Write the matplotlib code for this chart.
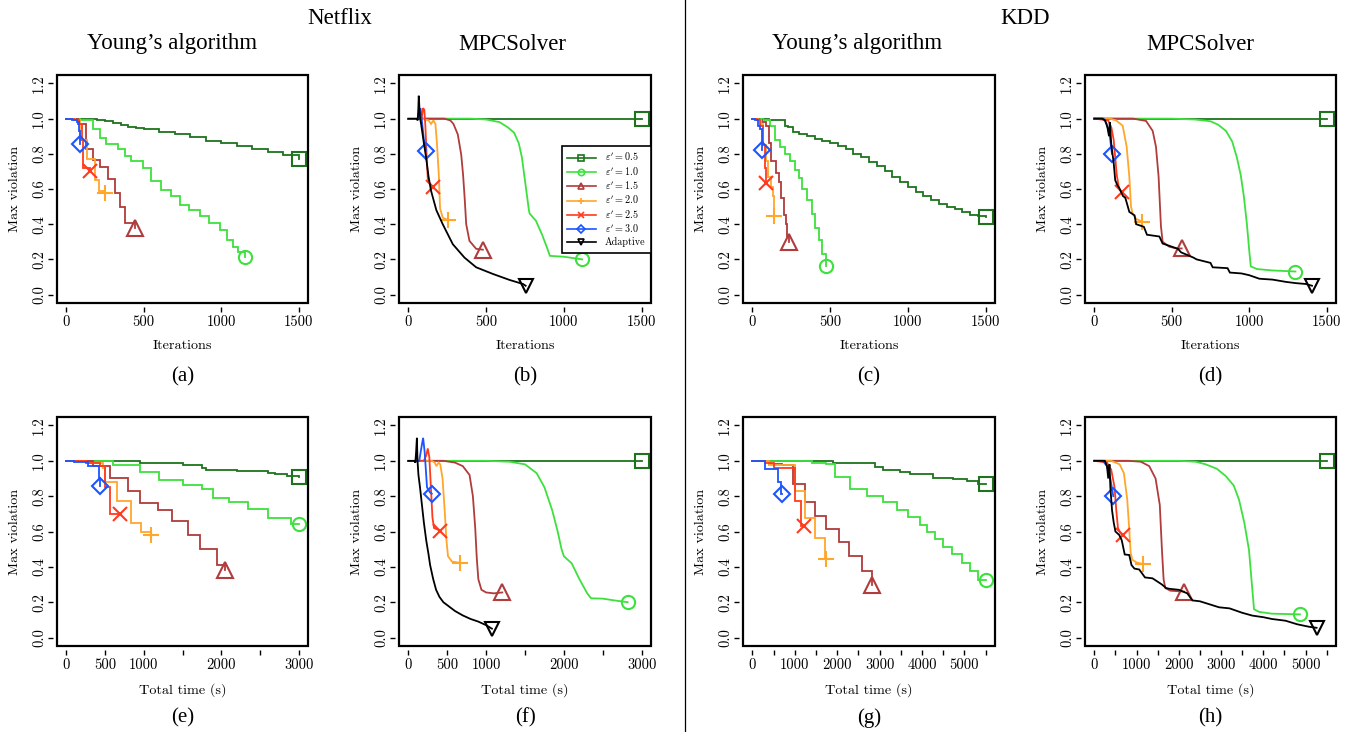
import matplotlib

matplotlib.use("Agg")
import matplotlib.pyplot as plt
from matplotlib.lines import Line2D
from matplotlib.patches import Rectangle

# ---- series labels / styles -------------------------------------------------
SERIES = ["0.5", "1.0", "1.5", "2.0", "2.5", "3.0", "Adaptive"]
COLORS = ["#1d741d", "#3ee03e", "#b03c3c", "#ffa62b", "#ff3b1e", "#1a55ff", "#000000"]
MARKERS = ["s", "o", "^", "+", "x", "D", "v"]
MSIZES = [10, 9.5, 11, 12, 9.5, 8.5, 10.5]

# ---- (a) Netflix, Young's algorithm, iterations -----------------------------
NETFLIX_YOUNG_ITER = {
    "0.5": ([0, 130, 200, 250, 300, 350, 400, 450, 500, 600, 700, 800, 900, 1000, 1100, 1200, 1300, 1400, 1500],
            [1.0, 1.0, 0.995, 0.985, 0.975, 0.965, 0.955, 0.945, 0.94, 0.925, 0.91, 0.895, 0.875, 0.86, 0.845,
             0.825, 0.81, 0.795, 0.77]),
    "1.0": ([0, 90, 172, 215, 258, 333, 376, 419, 494, 548, 612, 677, 731, 795, 860, 924, 989, 1040, 1075, 1110, 1156],
            [1.0, 0.995, 0.94, 0.89, 0.853, 0.825, 0.787, 0.758, 0.72, 0.644, 0.596, 0.558, 0.51, 0.482, 0.444,
             0.406, 0.368, 0.31, 0.27, 0.244, 0.215]),
    "1.5": ([0, 75, 125, 172, 215, 269, 312, 344, 376, 420, 445],
            [1.0, 0.97, 0.83, 0.767, 0.726, 0.657, 0.58, 0.50, 0.405, 0.405, 0.38]),
    "2.0": ([0, 54, 86, 133, 183, 211, 247], [1.0, 0.99, 0.88, 0.77, 0.65, 0.59, 0.58]),
    "2.5": ([0, 50, 85, 100, 110, 150], [1.0, 0.99, 0.97, 0.88, 0.72, 0.70]),
    "3.0": ([0, 40, 70, 80, 86], [1.0, 0.99, 0.98, 0.93, 0.857]),
}

# ---- (b) Netflix, MPCSolver, iterations ------------------------------------
NETFLIX_MPC_ITER = {
    "0.5": ([0, 1500], [1.0, 1.0]),
    "1.0": ([60, 400, 500, 587, 640, 680, 710, 730, 745, 760, 775, 780, 820, 860, 890, 910, 1000, 1117],
            [1.0, 1.0, 0.995, 0.98, 0.95, 0.92, 0.86, 0.78, 0.68, 0.58, 0.48, 0.46, 0.42, 0.34, 0.27, 0.22,
             0.215, 0.20]),
    "1.5": ([80, 230, 270, 290, 318, 340, 352, 362, 372, 393, 436, 479],
            [1.0, 1.0, 0.99, 0.97, 0.91, 0.795, 0.68, 0.55, 0.40, 0.305, 0.26, 0.255]),
    "2.0": ([80, 130, 146, 161, 174, 183, 196, 204, 221, 254],
            [1.0, 0.99, 0.97, 0.99, 0.97, 0.87, 0.68, 0.49, 0.437, 0.424]),
    "2.5": ([70, 85, 95, 103, 110, 118, 125, 135, 161], [1.0, 1.0, 1.06, 1.05, 0.95, 0.78, 0.66, 0.635, 0.61]),
    "3.0": ([60, 70, 78, 88, 100, 114], [1.0, 1.02, 1.06, 0.98, 0.88, 0.818]),
    "Adaptive": ([0, 55, 60, 64, 67, 72, 76, 82, 100, 114, 130, 146, 180, 221, 286, 361, 436, 544, 651, 737, 754],
                 [1.0, 1.0, 0.99, 1.05, 1.13, 1.05, 1.0, 0.97, 0.86, 0.78, 0.67, 0.59, 0.48, 0.40, 0.286, 0.21,
                  0.155, 0.117, 0.083, 0.06, 0.05]),
}

# ---- (c) KDD, Young's algorithm, iterations --------------------------------
KDD_YOUNG_ITER = {
    "0.5": ([0, 100, 110, 190, 210, 230, 260, 300, 350, 400, 450, 500, 550, 600, 650, 700, 750, 800, 850, 900,
             950, 1000, 1050, 1100, 1150, 1200, 1250, 1300, 1350, 1400, 1450, 1500],
            [1.0, 1.0, 0.99, 0.99, 0.96, 0.95, 0.925, 0.915, 0.90, 0.885, 0.87, 0.86, 0.845, 0.83, 0.80, 0.78,
             0.755, 0.73, 0.70, 0.67, 0.64, 0.61, 0.585, 0.56, 0.535, 0.515, 0.50, 0.485, 0.47, 0.455, 0.445, 0.44]),
    "1.0": ([0, 71, 114, 146, 178, 211, 243, 275, 297, 318, 350, 383, 404, 426, 447, 473],
            [1.0, 0.99, 0.96, 0.88, 0.84, 0.80, 0.76, 0.71, 0.66, 0.60, 0.54, 0.46, 0.38, 0.31, 0.23, 0.164]),
    "1.5": ([0, 40, 60, 85, 105, 120, 150, 170, 185, 205, 215, 225, 236],
            [1.0, 0.995, 0.98, 0.96, 0.86, 0.76, 0.69, 0.64, 0.55, 0.45, 0.40, 0.33, 0.30]),
    "2.0": ([0, 35, 55, 70, 85, 100, 120, 135, 142], [1.0, 0.99, 0.97, 0.85, 0.76, 0.67, 0.61, 0.56, 0.449]),
    "2.5": ([0, 30, 50, 70, 80, 86], [1.0, 0.99, 0.96, 0.85, 0.72, 0.635]),
    "3.0": ([0, 20, 35, 50, 60, 64], [1.0, 0.99, 0.96, 0.94, 0.86, 0.82]),
}

# ---- (d) KDD, MPCSolver, iterations ----------------------------------------
KDD_MPC_ITER = {
    "0.5": ([0, 1500], [1.0, 1.0]),
    "1.0": ([0, 500, 650, 750, 800, 850, 890, 920, 945, 965, 985, 1000, 1010, 1050, 1150, 1298],
            [1.0, 1.0, 0.995, 0.985, 0.965, 0.93, 0.87, 0.78, 0.68, 0.56, 0.40, 0.25, 0.16, 0.145, 0.137, 0.131]),
    "1.5": ([0, 250, 334, 377, 398, 415, 430, 441, 484, 530, 564],
            [1.0, 1.0, 0.987, 0.93, 0.84, 0.67, 0.39, 0.30, 0.272, 0.262, 0.262]),
    "2.0": ([0, 100, 140, 183, 209, 226, 237, 247, 270, 308], [1.0, 1.0, 0.99, 0.96, 0.84, 0.67, 0.50, 0.46, 0.43, 0.415]),
    "2.5": ([0, 90, 110, 125, 135, 145, 160, 178], [1.0, 0.99, 0.95, 0.88, 0.78, 0.68, 0.60, 0.583]),
    "3.0": ([0, 60, 80, 100, 114], [1.0, 1.0, 0.97, 0.90, 0.80]),
    "Adaptive": ([0, 50, 70, 85, 95, 100, 110, 125, 135, 150, 161, 185, 200, 210, 226, 260, 270, 320, 340, 420,
                  441, 540, 560, 640, 660, 750, 764, 860, 875, 950, 1000, 1065, 1150, 1237, 1300, 1366, 1405],
                 [1.0, 1.0, 0.99, 0.95, 0.90, 0.98, 0.85, 0.75, 0.65, 0.62, 0.606, 0.56, 0.55, 0.52, 0.47, 0.45,
                  0.40, 0.385, 0.34, 0.33, 0.29, 0.26, 0.24, 0.21, 0.20, 0.18, 0.155, 0.15, 0.125, 0.12, 0.11,
                  0.09, 0.085, 0.072, 0.065, 0.06, 0.05]),
}

# ---- (e) Netflix, Young's algorithm, total time ----------------------------
NETFLIX_YOUNG_TIME = {
    "0.5": ([0, 850, 950, 1150, 1500, 1750, 1800, 2200, 2600, 2700, 2850, 3000],
            [1.0, 1.0, 0.99, 0.985, 0.975, 0.96, 0.95, 0.94, 0.93, 0.925, 0.915, 0.91]),
    "1.0": ([0, 600, 950, 1200, 1500, 1750, 1900, 2100, 2350, 2600, 2900, 3000],
            [1.0, 0.976, 0.934, 0.89, 0.862, 0.839, 0.79, 0.766, 0.725, 0.677, 0.64, 0.64]),
    "1.5": ([0, 350, 560, 800, 950, 1180, 1370, 1570, 1720, 1940, 2046],
            [1.0, 0.97, 0.905, 0.83, 0.76, 0.72, 0.66, 0.58, 0.50, 0.41, 0.38]),
    "2.0": ([0, 260, 470, 500, 650, 830, 970, 1096], [1.0, 0.99, 0.96, 0.88, 0.77, 0.65, 0.595, 0.58]),
    "2.5": ([0, 260, 430, 500, 560, 688], [1.0, 0.99, 0.97, 0.85, 0.70, 0.70]),
    "3.0": ([0, 100, 280, 420, 440], [1.0, 0.995, 0.97, 0.90, 0.858]),
}

# ---- (f) Netflix, MPCSolver, total time ------------------------------------
NETFLIX_MPC_TIME = {
    "0.5": ([0, 3000], [1.0, 1.0]),
    "1.0": ([100, 1000, 1300, 1500, 1650, 1750, 1850, 1920, 1970, 2000, 2100, 2200, 2300, 2350, 2500, 2650, 2819],
            [1.0, 1.0, 0.995, 0.98, 0.93, 0.85, 0.72, 0.60, 0.50, 0.46, 0.42, 0.33, 0.25, 0.222, 0.22, 0.21, 0.20]),
    "1.5": ([100, 450, 600, 700, 787, 830, 860, 880, 900, 940, 1000, 1100, 1208],
            [1.0, 1.0, 0.99, 0.97, 0.92, 0.80, 0.62, 0.45, 0.33, 0.27, 0.255, 0.25, 0.255]),
    "2.0": ([100, 300, 340, 360, 390, 410, 440, 470, 490, 510, 560, 658],
            [1.0, 1.0, 0.99, 0.97, 0.99, 0.98, 0.90, 0.70, 0.55, 0.46, 0.43, 0.423]),
    "2.5": ([100, 200, 230, 250, 270, 290, 310, 330, 413], [1.0, 1.0, 1.03, 1.07, 1.02, 0.85, 0.68, 0.62, 0.604]),
    "3.0": ([100, 140, 170, 190, 210, 225, 240, 280, 301], [1.0, 1.0, 1.08, 1.13, 1.05, 0.95, 0.85, 0.82, 0.814]),
    "Adaptive": ([0, 80, 90, 100, 110, 118, 130, 150, 175, 200, 230, 260, 280, 320, 357, 400, 450, 510, 600, 700,
                  800, 900, 1000, 1075],
                 [1.0, 1.0, 0.99, 1.05, 1.13, 1.0, 0.92, 0.85, 0.75, 0.65, 0.55, 0.47, 0.41, 0.33, 0.27, 0.23,
                  0.20, 0.18, 0.15, 0.125, 0.105, 0.09, 0.07, 0.05]),
}

# ---- (g) KDD, Young's algorithm, total time --------------------------------
KDD_YOUNG_TIME = {
    "0.5": ([0, 1000, 1500, 1900, 2890, 3087, 3480, 3717, 4268, 4740, 5055, 5331, 5500],
            [1.0, 1.0, 0.998, 0.99, 0.966, 0.949, 0.937, 0.924, 0.905, 0.895, 0.884, 0.87, 0.87]),
    "1.0": ([0, 800, 1400, 1748, 1945, 2300, 2693, 3087, 3401, 3677, 3953, 4110, 4307, 4504, 4701, 4937, 5134,
             5331, 5512],
            [1.0, 0.998, 0.985, 0.98, 0.908, 0.842, 0.80, 0.766, 0.724, 0.68, 0.638, 0.60, 0.556, 0.514, 0.472,
             0.42, 0.377, 0.328, 0.328]),
    "1.5": ([0, 400, 700, 950, 1250, 1480, 1740, 2050, 2280, 2580, 2700, 2811],
            [1.0, 0.98, 0.975, 0.87, 0.765, 0.69, 0.615, 0.54, 0.46, 0.375, 0.375, 0.30]),
    "2.0": ([0, 400, 1000, 1236, 1472, 1708, 1748], [1.0, 0.975, 0.83, 0.676, 0.562, 0.442, 0.442]),
    "2.5": ([0, 300, 500, 1000, 1157, 1213], [1.0, 0.99, 0.96, 0.77, 0.632, 0.632]),
    "3.0": ([0, 291, 606, 685, 709], [1.0, 0.952, 0.88, 0.815, 0.815]),
}

# ---- (h) KDD, MPCSolver, total time ----------------------------------------
KDD_MPC_TIME = {
    "0.5": ([0, 5500], [1.0, 1.0]),
    "1.0": ([0, 2000, 2400, 2638, 2900, 3110, 3300, 3425, 3550, 3661, 3730, 3780, 3900, 4200, 4866],
            [1.0, 1.0, 0.995, 0.98, 0.955, 0.914, 0.86, 0.78, 0.65, 0.495, 0.30, 0.16, 0.145, 0.135, 0.131]),
    "1.5": ([0, 800, 1100, 1300, 1450, 1550, 1600, 1640, 1680, 1800, 2126],
            [1.0, 1.0, 0.995, 0.97, 0.90, 0.75, 0.50, 0.33, 0.28, 0.265, 0.26]),
    "2.0": ([0, 400, 600, 700, 780, 830, 860, 900, 1000, 1157], [1.0, 1.0, 0.98, 0.93, 0.78, 0.60, 0.48, 0.44, 0.425, 0.415]),
    "2.5": ([0, 300, 400, 480, 520, 560, 620, 685], [1.0, 0.99, 0.95, 0.85, 0.72, 0.62, 0.59, 0.58]),
    "3.0": ([0, 200, 300, 380, 449], [1.0, 1.0, 0.97, 0.90, 0.80]),
    "Adaptive": ([0, 250, 300, 330, 360, 380, 420, 460, 500, 591, 650, 720, 827, 880, 950, 1063, 1200, 1378, 1600,
                  1700, 1772, 2000, 2200, 2323, 2500, 2700, 2953, 3200, 3500, 3740, 4000, 4200, 4528, 4800, 5079, 5260],
                 [1.0, 1.0, 0.97, 0.90, 0.98, 0.85, 0.72, 0.65, 0.60, 0.58, 0.55, 0.47, 0.467, 0.41, 0.39, 0.385,
                  0.34, 0.335, 0.30, 0.28, 0.276, 0.27, 0.25, 0.21, 0.205, 0.19, 0.171, 0.165, 0.14, 0.124, 0.115,
                  0.105, 0.095, 0.075, 0.061, 0.055]),
}

ITER_TICKS = [0, 500, 1000, 1500]
ITER_LABELS = ["0", "500", "1000", "1500"]
NETFLIX_TIME_TICKS = [0, 500, 1000, 1500, 2000, 2500, 3000]
NETFLIX_TIME_LABELS = ["0", "500", "1000", "", "2000", "", "3000"]
KDD_TIME_TICKS = [0, 500, 1000, 1500, 2000, 2500, 3000, 3500, 4000, 4500, 5000, 5500]
KDD_TIME_LABELS = ["0", "", "1000", "", "2000", "", "3000", "", "4000", "", "5000", ""]
Y_TICKS = [0.0, 0.2, 0.4, 0.6, 0.8, 1.0, 1.2]

plt.rcParams.update({
    "font.family": ["Liberation Serif", "DejaVu Serif"],
    "mathtext.fontset": "cm",
    "axes.unicode_minus": False,
})

W, H = 1361, 732
fig = plt.figure(figsize=(W / 100, H / 100), dpi=100)
fig.patch.set_facecolor("white")


def px_axes(left, top, right, bottom):
    return fig.add_axes([left / W, 1 - bottom / H, (right - left) / W, (bottom - top) / H])


def draw_panel(ax, data, steps, ticks, labels, xmax, xlabel, legend=False):
    for name, color, marker, ms in zip(SERIES, COLORS, MARKERS, MSIZES):
        if name not in data:
            continue
        xs, ys = data[name]
        ax.plot(xs, ys, color=color, lw=1.3, drawstyle="steps-post" if steps else "default",
                solid_joinstyle="miter")
        ax.plot(xs[-1], ys[-1], marker=marker, ms=ms, mfc="none", mec=color, mew=1.5, ls="none")
    ax.set_xlim(-0.04 * xmax, 1.04 * xmax)
    ax.set_ylim(-0.048, 1.248)
    for side, sp in ax.spines.items():
        sp.set_color("none")
    ax.spines["left"].set_position(("outward", 3))
    ax.spines["bottom"].set_position(("outward", 3))
    ax.add_patch(Rectangle((0, 0), 1, 1, transform=ax.transAxes, fill=False, lw=1.6, ec="black",
                           clip_on=False, zorder=6))
    ax.set_xticks(ticks, labels)
    ax.set_yticks(Y_TICKS, [f"{v:.1f}" for v in Y_TICKS])
    ax.tick_params(axis="both", direction="out", length=3.5, width=1.0, labelsize=10.5,
                   labelfontfamily="cmr10", pad=2.5)
    ax.tick_params(axis="y", labelrotation=90, pad=1.5)
    for lab in ax.get_yticklabels():
        lab.set_va("center")
    ax.set_xlabel(xlabel, fontfamily="cmr10", fontsize=10.2, labelpad=8)
    ax.set_ylabel("Max violation", fontfamily="cmr10", fontsize=10.2, labelpad=8)
    if legend:
        handles = [Line2D([], [], color=c, marker=m, ms=4.5, mfc="none", mew=1.2, lw=1.2)
                   for c, m in zip(COLORS, MARKERS)]
        names = [rf"$\varepsilon' = {s}$" if s != "Adaptive" else "Adaptive" for s in SERIES]
        leg = ax.legend(handles, names, loc="upper right", bbox_to_anchor=(1.0, 0.69),
                        borderaxespad=0, fancybox=False, framealpha=1, edgecolor="black",
                        prop={"family": "cmr10", "size": 7.3}, handlelength=2.8, labelspacing=0.22,
                        borderpad=0.55, handletextpad=0.9)
        leg.get_frame().set_linewidth(1.2)
        leg.set_zorder(7)


cols_px = [(57, 308), (399, 651), (743, 995), (1085, 1336)]
top_row = (75, 303)
bot_row = (417, 646)

panels_top = [
    (NETFLIX_YOUNG_ITER, True, ITER_TICKS, ITER_LABELS, 1500, False),
    (NETFLIX_MPC_ITER, False, ITER_TICKS, ITER_LABELS, 1500, True),
    (KDD_YOUNG_ITER, True, ITER_TICKS, ITER_LABELS, 1500, False),
    (KDD_MPC_ITER, False, ITER_TICKS, ITER_LABELS, 1500, False),
]
panels_bot = [
    (NETFLIX_YOUNG_TIME, True, NETFLIX_TIME_TICKS, NETFLIX_TIME_LABELS, 3000, False),
    (NETFLIX_MPC_TIME, False, NETFLIX_TIME_TICKS, NETFLIX_TIME_LABELS, 3000, False),
    (KDD_YOUNG_TIME, True, KDD_TIME_TICKS, KDD_TIME_LABELS, 5500, False),
    (KDD_MPC_TIME, False, KDD_TIME_TICKS, KDD_TIME_LABELS, 5500, False),
]

for (l, r), spec in zip(cols_px, panels_top):
    ax = px_axes(l, top_row[0], r, top_row[1])
    draw_panel(ax, spec[0], spec[1], spec[2], spec[3], spec[4], "Iterations", legend=spec[5])
for (l, r), spec in zip(cols_px, panels_bot):
    ax = px_axes(l, bot_row[0], r, bot_row[1])
    draw_panel(ax, spec[0], spec[1], spec[2], spec[3], spec[4], "Total time (s)", legend=spec[5])

# titles and sub-captions
fig.text(340 / W, 1 - 18 / H, "Netflix", ha="center", va="center", fontsize=16.5)
fig.text(1025 / W, 1 - 18 / H, "KDD", ha="center", va="center", fontsize=16.5)
for cx, title in zip([172, 512, 857, 1200], ["Young’s algorithm", "MPCSolver", "Young’s algorithm", "MPCSolver"]):
    fig.text(cx / W, 1 - 44 / H, title, ha="center", va="center", fontsize=16.5)
for cx, a, b in zip([183, 525, 869, 1210], ["(a)", "(b)", "(c)", "(d)"], ["(e)", "(f)", "(g)", "(h)"]):
    fig.text(cx / W, 1 - 377 / H, a, ha="center", va="center", fontsize=15)
    fig.text(cx / W, 1 - 718 / H, b, ha="center", va="center", fontsize=15)

fig.add_artist(Line2D([685 / W, 685 / W], [0, 1], color="black", lw=0.9, transform=fig.transFigure))

fig.savefig("out.png", dpi=100)
